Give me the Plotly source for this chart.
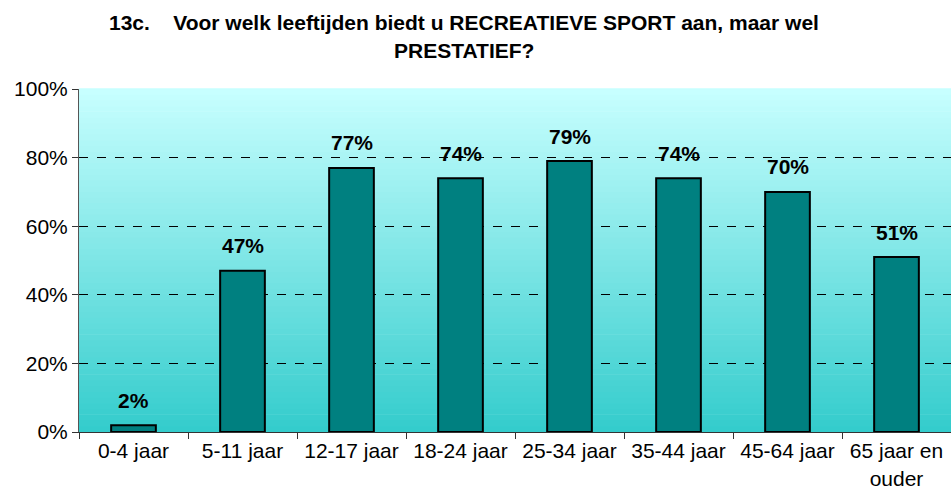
import plotly.graph_objects as go

# Data
categories = ['0-4 jaar', '5-11 jaar', '12-17 jaar', '18-24 jaar', '25-34 jaar',
              '35-44 jaar', '45-64 jaar', '65 jaar en<br>ouder']
values = [2, 47, 77, 74, 79, 74, 70, 51]
value_labels = [f'{v}%' for v in values]

title_line1 = '13c.\u00a0\u00a0\u00a0\u00a0Voor welk leeftijden biedt u RECREATIEVE SPORT aan, maar wel'
title_line2 = 'PRESTATIEF?'

font_family = 'Liberation Sans, Arial, sans-serif'
bar_color = '#008080'

fig = go.Figure()
fig.add_trace(go.Bar(
    x=categories, y=values,
    marker=dict(color=bar_color, line=dict(color='black', width=2)),
    width=0.41,
    hoverinfo='x+y',
))

# value labels above the bars
for c, v, t in zip(categories, values, value_labels):
    fig.add_annotation(x=c, y=v, text=f'<b>{t}</b>', showarrow=False,
                       yanchor='middle', yshift=25,
                       font=dict(family=font_family, size=21, color='black'))

# vertical gradient background (light cyan -> turquoise)
n = 60
top = (0xc8, 0xff, 0xff)
bot = (0x33, 0xcc, 0xcc)
for i in range(n):
    f = (i + 0.5) / n
    col = tuple(round(bot[k] + (top[k] - bot[k]) * f) for k in range(3))
    fig.add_shape(type='rect', xref='paper', yref='paper',
                  x0=0, x1=1, y0=i / n, y1=(i + 1) / n + 0.002,
                  fillcolor='rgb(%d,%d,%d)' % col, line=dict(width=0),
                  layer='below')

# title lines
for txt, shift in [(title_line1, 67), (title_line2, 39)]:
    fig.add_annotation(xref='paper', yref='paper', x=0.442, y=1, yanchor='middle',
                       yshift=shift, text=f'<b>{txt}</b>', showarrow=False,
                       font=dict(family=font_family, size=21, color='black'))

fig.update_layout(
    width=951, height=500,
    margin=dict(l=79, r=0, t=89, b=68),
    paper_bgcolor='white', plot_bgcolor='rgba(0,0,0,0)',
    showlegend=False,
    font=dict(family=font_family, size=21, color='black'),
)
fig.update_xaxes(
    automargin=False,
    showline=True, linecolor='#333333', linewidth=1,
    ticks='outside', tickson='boundaries', ticklen=6, tickcolor='#333333',
    showgrid=False, tickfont=dict(size=21),
)
fig.update_yaxes(
    automargin=False,
    range=[0, 100], dtick=20, ticksuffix='%',
    showline=True, linecolor='#555555', linewidth=1,
    ticks='outside', ticklen=6, tickcolor='#333333',
    showgrid=True, gridcolor='black', gridwidth=1, griddash='dash',
    zeroline=False, tickfont=dict(size=21),
)

# drop the default page margin so the figure fills the window exactly
fig.write_html('out.html', config={'displayModeBar': False},
               post_script="document.body.style.margin='0';")
